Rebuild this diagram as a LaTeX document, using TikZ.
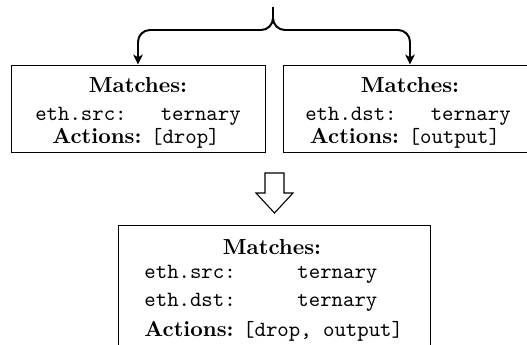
\documentclass[tikz,border=0pt]{standalone}
\usetikzlibrary{arrows.meta}
\begin{document}
\begin{tikzpicture}[x=0.46pt,y=-0.46pt,
  box/.style={draw=black,line width=0.45pt,inner sep=0pt,minimum width=116.84pt,minimum height=40.02pt},
  bigbox/.style={draw=black,line width=0.45pt,inner sep=0pt,minimum width=143.52pt,minimum height=57.04pt},
  txt/.style={inner sep=0pt,anchor=base},
  txtl/.style={inner sep=0pt,anchor=base west},
  brace/.style={line width=0.9pt,rounded corners=5.5pt,-{Stealth[length=4.6pt,width=4.4pt,inset=1.3pt]}},
  fatarrow/.style={line width=0.5pt,fill=white,line join=miter}]
\useasboundingbox (0,0) rectangle (527,345);
% boxes
\node[box] (leftbox) at (138,108.5) {};
\node[box] (rightbox) at (410,108.5) {};
\node[bigbox] (bottombox) at (274,287) {};
% left box text
\node[txt] (l1) at (138,92.3) {\textbf{Matches:}};
\node[txt] (l2) at (138,120.7) {\texttt{eth.src:\ \ \ ternary}};
\node[txt] (l3) at (136,143.3) {\textbf{Actions:} \texttt{[drop]}};
% right box text
\node[txt] (r1) at (410,92.3) {\textbf{Matches:}};
\node[txt] (r2) at (408,120.7) {\texttt{eth.dst:\ \ \ ternary}};
\node[txt] (r3) at (405,143.3) {\textbf{Actions:} \texttt{[output]}};
% bottom box text
\node[txt] (b1) at (272,254.3) {\textbf{Matches:}};
\node[txtl] (b2a) at (144,278.3) {\texttt{eth.src:}};
\node[txtl] (b2b) at (297,278.3) {\texttt{ternary}};
\node[txtl] (b3a) at (144,306.7) {\texttt{eth.dst:}};
\node[txtl] (b3b) at (297,306.7) {\texttt{ternary}};
\node[txtl] (b4) at (144,336) {\textbf{Actions:} \texttt{[drop, output]}};
% brace arrows
\coordinate (top) at (273,7);
\coordinate (mid) at (273,30);
\draw[brace] (top) -- (mid) -| (leftbox.north);
\draw[brace] (top) -- (mid) -| (rightbox.north);
% down arrow
\draw[fatarrow] (265,173) -- (284,173) -- (284,193) -- (293,193) -- (274.5,213) -- (256,193) -- (265,193) -- cycle;
\end{tikzpicture}
\end{document}
